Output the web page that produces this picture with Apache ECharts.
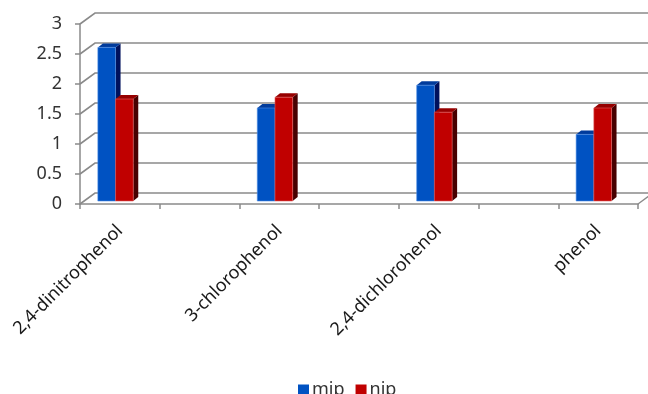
<!DOCTYPE html>
<html>
<head>
<meta charset="utf-8">
<script src="https://cdn.jsdelivr.net/npm/echarts@6/dist/echarts.min.js"></script>
<style>
  html, body { margin: 0; padding: 0; background: #fff; }
  #chart { width: 648px; height: 394px; }
</style>
</head>
<body>
<div id="chart"></div>
<script>
// Categories (blank slots keep the spacing between compounds)
const categories = ['2,4-dinitrophenol', '', '3-chlorophenol', '', '2,4-dichlorohenol', '', 'phenol'];
// Slot index of each compound within the category axis
const slots = [0, 2, 4, 6];
const mipValues = [2.56, 1.55, 1.93, 1.11];
const nipValues = [1.70, 1.73, 1.48, 1.55];
const yTicks = [0, 0.5, 1, 1.5, 2, 2.5, 3];

// 3D look: depth of the wall and of the columns
const WALL_DX = 15, WALL_DY = -11;
const BAR_DX = 5, BAR_DY = -4;
const PLANE_DY = -3;
const BAR_W = 17.7;

const palette = {
  mip: { front: '#0052C2', top: '#003B9C', side: '#00115C', edge: '#4d8ee6' },
  nip: { front: '#C00000', top: '#960000', side: '#480000', edge: '#e06060' }
};

function columnRenderer(key, offset) {
  const c = palette[key];
  return function (params, api) {
    const idx = api.value(0);
    const base = api.coord([idx, 0]);
    const top = api.coord([idx, api.value(1)]);
    const x1 = base[0] + offset;
    const x2 = x1 + BAR_W;
    const yb = base[1] + PLANE_DY;
    const yt = top[1] + PLANE_DY;
    return {
      type: 'group',
      children: [
        { type: 'polygon', shape: { points: [[x2, yt], [x2 + BAR_DX, yt + BAR_DY], [x2 + BAR_DX, yb + BAR_DY], [x2, yb]] },
          style: { fill: c.side } },
        { type: 'polygon', shape: { points: [[x1, yt], [x2, yt], [x2 + BAR_DX, yt + BAR_DY], [x1 + BAR_DX, yt + BAR_DY]] },
          style: { fill: c.top } },
        { type: 'rect', shape: { x: x1, y: yt, width: BAR_W, height: yb - yt },
          style: { fill: c.front, stroke: c.edge, lineWidth: 0.6 } }
      ]
    };
  };
}

function wallRenderer(params, api) {
  const cs = params.coordSys;
  const v = api.value(1);
  const y = api.coord([0, v])[1];
  const x0 = cs.x;
  const children = [
    { type: 'polyline', shape: { points: [[x0, y], [x0 + WALL_DX, y + WALL_DY], [x0 + cs.width + 40, y + WALL_DY]] },
      style: { stroke: '#8a8a8a', lineWidth: 1.6, fill: null } }
  ];
  if (v === 0) {
    const xr = x0 + cs.width;
    children.push({ type: 'line', shape: { x1: xr, y1: y, x2: xr + WALL_DX, y2: y + WALL_DY },
      style: { stroke: '#8a8a8a', lineWidth: 1.4 } });
  }
  return { type: 'group', children: children };
}

const chart = echarts.init(document.getElementById('chart'));
chart.setOption({
  animation: false,
  textStyle: { fontFamily: 'Noto Sans' },
  grid: { left: 80, right: 10, top: 24, bottom: 190 },
  legend: {
    data: ['mip', 'nip'],
    left: 293,
    top: 376,
    itemWidth: 11,
    itemHeight: 11,
    itemGap: 11,
    icon: 'rect',
    textStyle: { fontSize: 18, color: '#333', padding: [0, 0, 0, -2] }
  },
  xAxis: {
    type: 'category',
    data: categories,
    boundaryGap: true,
    axisLine: { show: true, lineStyle: { color: '#8a8a8a', width: 1.5 } },
    axisTick: { show: true, interval: 0, length: 5, lineStyle: { color: '#8a8a8a', width: 1.5 } },
    axisLabel: { interval: 0, rotate: 45, margin: 24, fontSize: 18, color: '#1a1a1a' },
    splitLine: { show: false }
  },
  yAxis: {
    type: 'value',
    min: 0,
    max: 3,
    interval: 0.5,
    axisLine: { show: true, lineStyle: { color: '#8a8a8a', width: 1.5 } },
    axisTick: { show: true, length: 5, lineStyle: { color: '#8a8a8a', width: 1.5 } },
    axisLabel: { margin: 18, fontSize: 18, color: '#333' },
    splitLine: { show: false }
  },
  series: [
    {
      name: 'wall',
      type: 'custom',
      z: 1,
      silent: true,
      renderItem: wallRenderer,
      data: yTicks.map(v => [0, v])
    },
    {
      name: 'mip',
      type: 'custom',
      z: 2,
      itemStyle: { color: palette.mip.front },
      renderItem: columnRenderer('mip', -22),
      data: slots.map((s, i) => [s, mipValues[i]])
    },
    {
      name: 'nip',
      type: 'custom',
      z: 3,
      itemStyle: { color: palette.nip.front },
      renderItem: columnRenderer('nip', -22 + BAR_W),
      data: slots.map((s, i) => [s, nipValues[i]])
    }
  ]
});
</script>
</body>
</html>
